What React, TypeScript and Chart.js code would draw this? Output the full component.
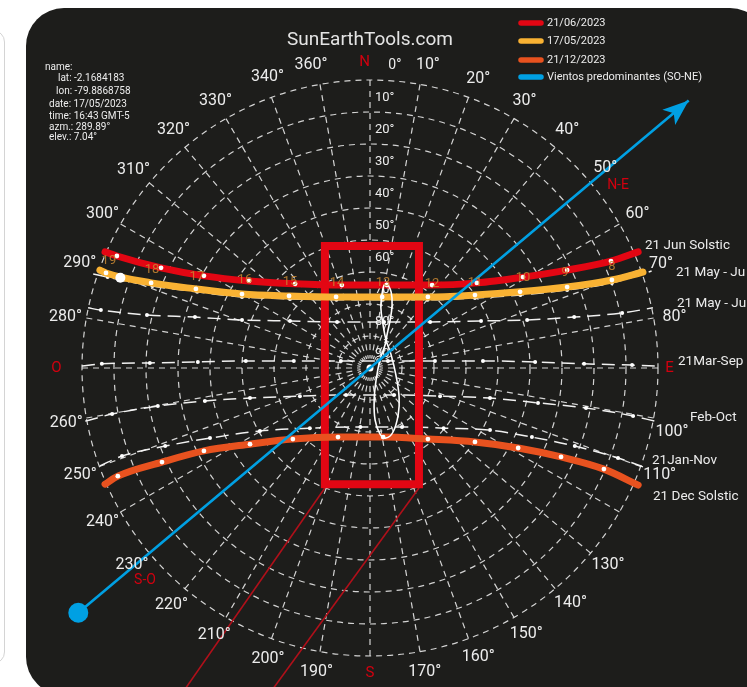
import React, { useEffect, useRef } from "react";
import { Chart, registerables } from "chart.js";
Chart.register(...registerables);

// ---------- data (plot units: degrees of zenith distance, x = east, y = north) ----------
const RING_ELEVATIONS = [0, 10, 20, 30, 40, 50, 60, 70, 80];
const ELEVATION_LABELS = [10, 20, 30, 40, 50, 60, 70, 80, 90];
const RADIAL_AZIMUTHS = [0, 10, 20, 30, 40, 50, 60, 70, 80, 90, 100, 110, 120, 130, 140, 150, 160, 170, 180, 190, 200, 210, 220, 230, 240, 250, 260, 270, 280, 290, 300, 310, 320, 330, 340, 350];
const AZIMUTH_LABEL_TEXT = ["360°", "10°", "20°", "30°", "40°", "50°", "60°", "70°", "80°", "100°", "110°", "130°", "140°", "150°", "160°", "170°", "190°", "200°", "210°", "220°", "230°", "240°", "250°", "260°", "280°", "290°", "300°", "310°", "320°", "330°", "340°"];
const AZIMUTH_LABEL_AZ = [349, 10.8, 20.5, 30, 39.7, 49.6, 60, 70.4, 80.4, 102, 110.3, 129.6, 139.5, 149.6, 159.5, 169.8, 190, 199.3, 210.3, 220, 230.4, 240, 249.8, 259.7, 279.6, 289.9, 300, 310, 320.5, 330, 340.6];
const CARDINALS: [string, number, number][] = [["N", 359, 95.6], ["E", 90, 93.6], ["S", 180, 95.4], ["O", 270, 98]];
const WIND_LABELS: [string, number, number][] = [["N-E", 53.6, 96.3], ["S-O", 226.7, 96.6]];

const JUNE_PATH: [number, number][] = [[-82.8, 36.3], [-79.1, 35.0], [-65.3, 31.3], [-51.9, 28.8], [-37.8, 27.2], [-23.4, 26.3], [-8.8, 25.9], [5.3, 25.9], [19.4, 25.9], [33.4, 26.6], [47.8, 28.4], [61.6, 30.6], [75.3, 33.4], [83.8, 36.3]];
const MAY_PATH: [number, number][] = [[-84.4, 30.6], [-82.5, 29.7], [-68.4, 26.6], [-54.4, 24.7], [-40.0, 23.1], [-25.3, 22.5], [-10.6, 22.2], [3.8, 22.2], [18.1, 22.2], [32.8, 22.8], [46.9, 23.8], [61.6, 25.3], [75.6, 27.5], [85.3, 30.0]];
const DEC_PATH: [number, number][] = [[-82.8, -36.3], [-78.8, -33.8], [-65.0, -29.4], [-51.9, -25.9], [-37.5, -23.8], [-24.1, -22.2], [-10.0, -21.6], [4.1, -21.6], [18.1, -22.2], [32.8, -23.1], [46.3, -25.0], [59.7, -27.8], [73.1, -31.6], [83.8, -36.6]];
const MAYJUL_PATH: [number, number][] = [[-86.5, 29.4], [-82.0, 28.4], [-68.0, 25.6], [-54.0, 23.8], [-40.0, 22.2], [-25.0, 21.6], [-10.5, 21.3], [4.0, 21.3], [18.0, 21.3], [32.8, 21.9], [47.0, 22.8], [61.6, 24.4], [75.6, 26.6], [88.0, 30.3]];
const APRAUG_PATH: [number, number][] = [[-88.1, 18.8], [-84.1, 18.1], [-69.7, 16.6], [-54.7, 15.9], [-40.0, 15.0], [-25.0, 14.7], [-10.3, 14.4], [4.4, 14.4], [18.8, 14.4], [34.7, 14.7], [49.1, 15.0], [63.8, 15.9], [78.8, 17.2], [88.4, 18.8]];
const EQUINOX_PATH: [number, number][] = [[-90.0, 0.6], [-83.8, 1.3], [-68.8, 1.6], [-53.8, 1.9], [-38.8, 2.2], [-23.8, 2.2], [-9.1, 2.2], [5.6, 2.2], [20.3, 2.2], [35.3, 2.2], [51.6, 1.9], [66.9, 1.3], [81.9, 0.9], [90.0, 0.6]];
const FEBOCT_PATH: [number, number][] = [[-89.0, -16.6], [-80.6, -14.4], [-66.3, -11.9], [-51.6, -10.3], [-37.5, -9.4], [-21.9, -8.8], [-7.5, -8.4], [7.5, -8.4], [21.9, -8.8], [37.5, -9.4], [52.5, -10.9], [67.5, -12.5], [82.2, -15.0], [89.0, -16.6]];
const JANNOV_PATH: [number, number][] = [[-84.4, -30.6], [-77.5, -27.5], [-64.0, -24.4], [-50.0, -21.9], [-34.4, -19.7], [-18.8, -18.8], [-3.0, -18.4], [10.0, -18.4], [23.0, -18.8], [37.5, -19.4], [50.6, -21.6], [64.0, -24.4], [77.5, -28.1], [85.3, -30.9]];
const ANALEMMA: [number, number][] = [[5.3, 26.6], [6.6, 23.8], [6.9, 19.7], [6.3, 15.0], [5.3, 10.3], [4.7, 7.2], [3.1, 2.5], [1.9, -3.8], [1.3, -10.0], [1.6, -16.3], [3.1, -20.6], [5.0, -21.9], [7.2, -20.0], [8.8, -14.7], [9.1, -9.1], [8.1, -2.2], [6.6, 4.1], [5.0, 8.8], [4.1, 13.4], [3.4, 18.8], [3.8, 23.4], [4.4, 25.9], [5.3, 26.6]];
const HOUR_LABELS = ["19", "18", "17", "16", "15", "14", "13", "12", "11", "10", "9", "8"];
const HOUR_LABEL_POS: [number, number][] = [[-81.6, 33.4], [-68.1, 30.6], [-54.1, 28.4], [-39.1, 27.5], [-25.0, 26.9], [-10.3, 26.6], [4.1, 26.6], [19.4, 26.3], [32.8, 26.6], [47.8, 28.1], [60.9, 29.7], [75.6, 31.6]];
const SUN_NOW = { az: 289.89, el: 7.04 };
const WIND_AZ_ZD: [number, number][] = [[230, 119], [50, 130]];
const PLOT_RECT: [number, number][] = [[-14.1, -36.3], [-14.1, 38.1], [15.3, 38.1], [15.3, -36.3], [-14.1, -36.3]];
const RAY_A: [number, number][] = [[-14.1, -37.5], [-64.5, -110]];
const RAY_B: [number, number][] = [[15.3, -37.5], [-37.4, -110]];
const LEGEND_LABELS = ["21/06/2023", "17/05/2023", "21/12/2023", "Vientos predominantes (SO-NE)"];
const MONTH_LABELS = ["21 Jun Solstic", "21 May - Ju", "21 May - Ju", "21Mar-Sep", "Feb-Oct", "21Jan-Nov", "21 Dec Solstic"];
const INFO_LINES = ["name:", "lat: -2.1684183", "lon: -79.8868758", "date: 17/05/2023", "time: 16:43 GMT-5", "azm.: 289.89°", "elev.: 7.04°"];

// ---------- layout / style ----------
const W = 747;
const H = 687;
const CX = 370;
const CY = 368;
const PPD = 3.2;
const RED = "#e30613";
const YEL = "#f9b233";
const ORG = "#e8521f";
const BLUE = "#00a0e3";
const CARD_RED = "#d2000f";
const FONT = 'Roboto, "Noto Sans", sans-serif';

const toXY = (pts: [number, number][]) => pts.map(([x, y]) => ({ x, y }));
const fromAzZd = (az: number, zd: number) => {
  const a = (az * Math.PI) / 180;
  return { x: zd * Math.sin(a), y: zd * Math.cos(a) };
};

export default function App() {
  const ref = useRef<HTMLCanvasElement>(null);
  useEffect(() => {
    const canvas = ref.current!;
    const innerDots = (r: number) => (c: any) => {
      const n = c.dataset.data.length;
      return c.dataIndex === 0 || c.dataIndex === n - 1 ? 0 : r;
    };
    const sunCurve = (pts: [number, number][], color: string, order: number) => ({
      data: toXY(pts),
      showLine: true,
      borderColor: color,
      borderWidth: 7,
      borderCapStyle: "round",
      cubicInterpolationMode: "monotone",
      pointRadius: innerDots(2.4),
      pointBackgroundColor: "#ffffff",
      pointBorderWidth: 0,
      order,
    });
    const whiteCurve = (pts: [number, number][], order: number) => ({
      data: toXY(pts),
      showLine: true,
      borderColor: "rgba(248,248,248,0.97)",
      borderWidth: 1.5,
      borderDash: [13, 7],
      cubicInterpolationMode: "monotone",
      pointRadius: innerDots(2),
      pointBackgroundColor: "#ffffff",
      pointBorderWidth: 0,
      order,
    });
    const straight = (pts: [number, number][], color: string, width: number, order: number, extra: any = {}) => ({
      data: toXY(pts),
      showLine: true,
      borderColor: color,
      borderWidth: width,
      pointRadius: 0,
      tension: 0,
      order,
      ...extra,
    });

    const windPts = WIND_AZ_ZD.map(([az, zd]) => fromAzZd(az, zd));
    const sunNow = fromAzZd(SUN_NOW.az, 90 - SUN_NOW.el);

    const datasets: any[] = [
      { data: [sunNow], pointRadius: 5, pointBackgroundColor: "#ffffff", pointBorderWidth: 0, order: 0 },
      {
        data: windPts,
        showLine: true,
        borderColor: BLUE,
        borderWidth: 2.6,
        pointRadius: [10, 0],
        pointBackgroundColor: BLUE,
        pointBorderWidth: 0,
        order: 1,
      },
      {
        data: toXY(ANALEMMA),
        showLine: true,
        borderColor: "#ffffff",
        borderWidth: 1.6,
        tension: 0.4,
        pointRadius: 0,
        order: 2,
      },
      sunCurve(JUNE_PATH, RED, 3),
      sunCurve(MAY_PATH, YEL, 4),
      sunCurve(DEC_PATH, ORG, 5),
      straight(PLOT_RECT, RED, 8, 6, { borderJoinStyle: "miter", borderCapStyle: "square" }),
      whiteCurve(MAYJUL_PATH, 7),
      whiteCurve(APRAUG_PATH, 8),
      whiteCurve(EQUINOX_PATH, 9),
      whiteCurve(FEBOCT_PATH, 10),
      whiteCurve(JANNOV_PATH, 11),
      straight(RAY_A, "#b0101a", 1.6, 12),
      straight(RAY_B, "#b0101a", 1.6, 12),
    ];

    const sunPlugin = {
      id: "sunPlugin",
      beforeDatasetsDraw(chart: any) {
        const { ctx } = chart;
        const xs = chart.scales.x;
        const ys = chart.scales.y;
        const cx = xs.getPixelForValue(0);
        const cy = ys.getPixelForValue(0);
        const unit = xs.getPixelForValue(1) - cx;
        ctx.save();
        ctx.strokeStyle = "rgba(232,232,232,0.9)";
        ctx.lineWidth = 1.2;
        ctx.setLineDash([6, 5]);
        RING_ELEVATIONS.forEach((el) => {
          ctx.beginPath();
          ctx.arc(cx, cy, (90 - el) * unit, 0, Math.PI * 2);
          ctx.stroke();
        });
        RADIAL_AZIMUTHS.forEach((az) => {
          const a = (az * Math.PI) / 180;
          ctx.beginPath();
          ctx.moveTo(cx + Math.sin(a) * 90 * unit, cy - Math.cos(a) * 90 * unit);
          ctx.lineTo(cx + Math.sin(a) * 3 * unit, cy - Math.cos(a) * 3 * unit);
          ctx.stroke();
        });
        ctx.setLineDash([]);
        ctx.fillStyle = "#ffffff";
        ctx.beginPath();
        ctx.arc(cx, cy, 3.5, 0, Math.PI * 2);
        ctx.fill();
        // elevation labels
        ctx.fillStyle = "#ececec";
        ctx.font = `13px ${FONT}`;
        ctx.textAlign = "left";
        ctx.textBaseline = "middle";
        ELEVATION_LABELS.forEach((el) => {
          ctx.fillText(`${el}°`, cx + 5, cy - (90 - el) * unit - 14);
        });
        ctx.restore();
      },
      afterDatasetsDraw(chart: any) {
        const { ctx } = chart;
        const xs = chart.scales.x;
        const ys = chart.scales.y;
        const cx = xs.getPixelForValue(0);
        const cy = ys.getPixelForValue(0);
        const unit = xs.getPixelForValue(1) - cx;
        const polar = (az: number, zd: number) => {
          const a = (az * Math.PI) / 180;
          return [cx + Math.sin(a) * zd * unit, cy - Math.cos(a) * zd * unit];
        };
        ctx.save();
        // arrow head of wind line
        const p0 = [xs.getPixelForValue(windPts[0].x), ys.getPixelForValue(windPts[0].y)];
        const p1 = [xs.getPixelForValue(windPts[1].x), ys.getPixelForValue(windPts[1].y)];
        const ang = Math.atan2(p1[1] - p0[1], p1[0] - p0[0]);
        const L = 26;
        const HW = 10;
        ctx.fillStyle = BLUE;
        ctx.beginPath();
        ctx.moveTo(p1[0], p1[1]);
        ctx.lineTo(p1[0] - L * Math.cos(ang) + HW * Math.sin(ang), p1[1] - L * Math.sin(ang) - HW * Math.cos(ang));
        ctx.lineTo(p1[0] - L * 0.75 * Math.cos(ang), p1[1] - L * 0.75 * Math.sin(ang));
        ctx.lineTo(p1[0] - L * Math.cos(ang) - HW * Math.sin(ang), p1[1] - L * Math.sin(ang) + HW * Math.cos(ang));
        ctx.closePath();
        ctx.fill();

        // hour labels
        ctx.font = `13px ${FONT}`;
        ctx.textAlign = "center";
        ctx.textBaseline = "middle";
        ctx.fillStyle = "rgba(200,135,50,0.85)";
        HOUR_LABELS.forEach((t, i) => {
          const [x, y] = HOUR_LABEL_POS[i];
          ctx.fillText(t, xs.getPixelForValue(x), ys.getPixelForValue(y));
        });

        // azimuth labels
        ctx.fillStyle = "#ececec";
        ctx.font = `16px ${FONT}`;
        AZIMUTH_LABEL_TEXT.forEach((t, i) => {
          const [x, y] = polar(AZIMUTH_LABEL_AZ[i], 96.5);
          ctx.fillText(t, x, y);
        });
        ctx.font = `14px ${FONT}`;
        {
          const [x, y] = polar(4.7, 94.7);
          ctx.fillText("0°", x, y);
        }
        // cardinals
        ctx.fillStyle = CARD_RED;
        ctx.font = `15px ${FONT}`;
        CARDINALS.forEach(([t, az, zd]) => {
          const [x, y] = polar(az, zd);
          ctx.fillText(t, x, y);
        });
        ctx.font = `14px ${FONT}`;
        WIND_LABELS.forEach(([t, az, zd]) => {
          const [x, y] = polar(az, zd);
          ctx.fillText(t, x, y);
        });

        // title
        ctx.fillStyle = "#e4e4e4";
        ctx.font = `19px ${FONT}`;
        ctx.fillText("SunEarthTools.com", 370, 40);

        // month labels on right
        ctx.fillStyle = "#ececec";
        ctx.font = `13.5px ${FONT}`;
        ctx.textAlign = "left";
        const monthPos = [[645, 246], [676, 273], [677, 304], [678, 362], [690, 418], [652, 461], [653, 497]];
        MONTH_LABELS.forEach((t, i) => ctx.fillText(t, monthPos[i][0], monthPos[i][1]));

        // legend
        const legendColors = [RED, YEL, ORG, BLUE];
        const legendY = [23, 41, 60, 77];
        ctx.lineCap = "round";
        ctx.lineWidth = 5.5;
        ctx.font = `11px ${FONT}`;
        LEGEND_LABELS.forEach((t, i) => {
          ctx.strokeStyle = legendColors[i];
          ctx.beginPath();
          ctx.moveTo(521, legendY[i]);
          ctx.lineTo(541, legendY[i]);
          ctx.stroke();
          ctx.fillStyle = "#ececec";
          ctx.fillText(t, 547, legendY[i]);
        });

        // info block
        ctx.font = `10px ${FONT}`;
        const infoPos = [[45, 67], [58, 78], [56, 91], [49, 104], [49, 116], [49, 127], [49, 137]];
        INFO_LINES.forEach((t, i) => ctx.fillText(t, infoPos[i][0], infoPos[i][1]));
        ctx.restore();
      },
    };

    const chart = new Chart(canvas, {
      type: "scatter",
      data: { datasets },
      options: {
        responsive: false,
        animation: false,
        devicePixelRatio: 1,
        layout: { padding: 0, autoPadding: false },
        plugins: { legend: { display: false }, tooltip: { enabled: false } },
        scales: {
          x: { type: "linear", display: false, min: -CX / PPD, max: (W - CX) / PPD },
          y: { type: "linear", display: false, min: -(H - CY) / PPD, max: CY / PPD },
        },
      } as any,
      plugins: [sunPlugin],
    });
    return () => chart.destroy();
  }, []);

  return (
    <div style={{ position: "fixed", left: 0, top: 0, width: W, height: H, overflow: "hidden", background: "#ffffff" }}>
      <div
        style={{
          position: "absolute",
          left: -300,
          top: 30,
          width: 305,
          height: 634,
          border: "1.5px solid #d4d4d4",
          borderRadius: 12,
          boxSizing: "border-box",
        }}
      />
      <div
        style={{
          position: "absolute",
          left: 26,
          top: 8,
          width: 742,
          height: 687,
          background: "#1d1d1b",
          borderRadius: 38,
        }}
      />
      <canvas ref={ref} width={W} height={H} style={{ position: "absolute", left: 0, top: 0, width: W, height: H }} />
    </div>
  );
}
